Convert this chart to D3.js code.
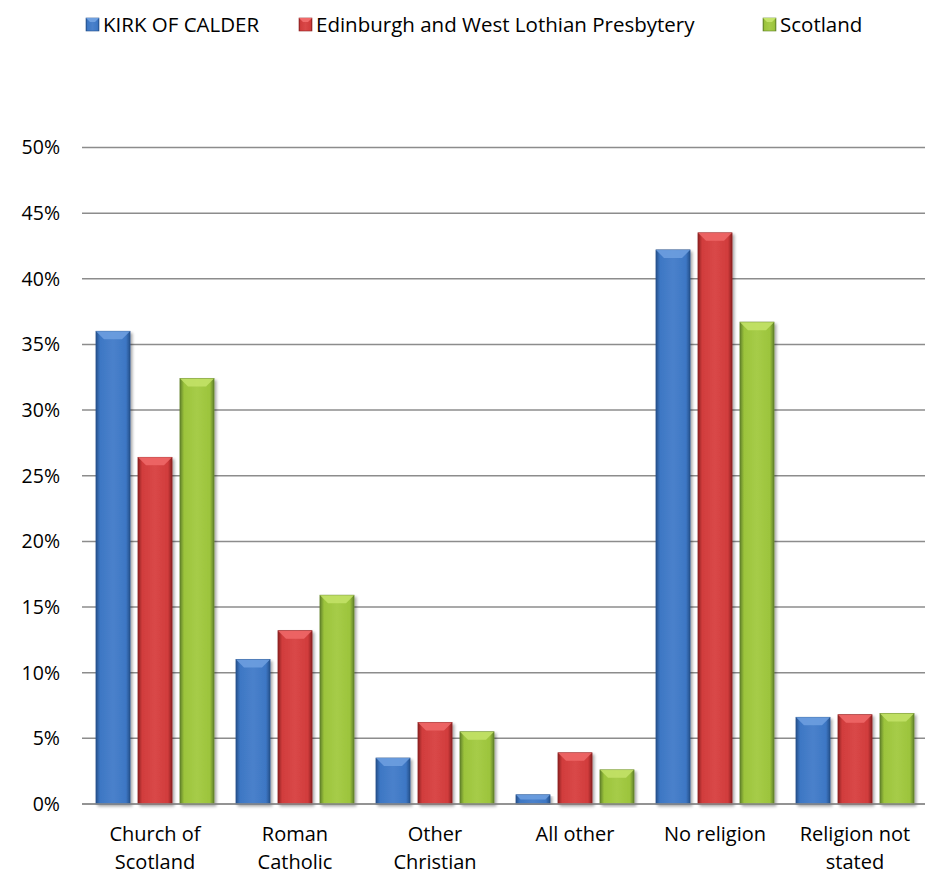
<!DOCTYPE html>
<html>
<head>
<meta charset="utf-8">
<script src="https://cdn.jsdelivr.net/npm/d3@7"></script>
<style>
  body { margin: 0; background: #fff; }
  svg text { font-family: "Open Sans", "Noto Sans", sans-serif; fill: #000; }
</style>
</head>
<body>
<svg id="chart"></svg>
<script>
// chart data
var categories = [['Church of', 'Scotland'], ['Roman', 'Catholic'], ['Other', 'Christian'], ['All other'], ['No religion'], ['Religion not', 'stated']];
var seriesNames = ['KIRK OF CALDER', 'Edinburgh and West Lothian Presbytery', 'Scotland'];
var kirkValues = [36.0, 11.0, 3.5, 0.7, 42.2, 6.6];
var presbyteryValues = [26.4, 13.2, 6.2, 3.9, 43.5, 6.8];
var scotlandValues = [32.4, 15.9, 5.5, 2.6, 36.7, 6.9];
var yTicks = [0, 5, 10, 15, 20, 25, 30, 35, 40, 45, 50];

var width = 930, height = 877;
var margin = { top: 147.5, right: 5, bottom: 73, left: 85 };
var colors = [
  { base: '#3d77c4', light: '#6fa0e0', dark: '#25518c' },
  { base: '#d13c3c', light: '#f06a6a', dark: '#8e2222' },
  { base: '#9cc43c', light: '#c4e36a', dark: '#62822a' }
];
var series = [kirkValues, presbyteryValues, scotlandValues];

var svg = d3.select('#chart').attr('width', width).attr('height', height);
var defs = svg.append('defs');

colors.forEach(function (c, i) {
  var g = defs.append('linearGradient').attr('id', 'bar' + i).attr('x1', 0).attr('x2', 1).attr('y1', 0).attr('y2', 0);
  g.append('stop').attr('offset', '0%').attr('stop-color', c.dark);
  g.append('stop').attr('offset', '12%').attr('stop-color', c.base);
  g.append('stop').attr('offset', '50%').attr('stop-color', d3.interpolateRgb(c.base, c.light)(0.25));
  g.append('stop').attr('offset', '88%').attr('stop-color', c.base);
  g.append('stop').attr('offset', '100%').attr('stop-color', c.dark);
});
var shadow = defs.append('filter').attr('id', 'shadow').attr('x', '-20%').attr('y', '-5%').attr('width', '150%').attr('height', '115%');
shadow.append('feGaussianBlur').attr('in', 'SourceAlpha').attr('stdDeviation', 1.5);
shadow.append('feOffset').attr('dx', 2).attr('dy', 2).attr('result', 'off');
shadow.append('feComponentTransfer').append('feFuncA').attr('type', 'linear').attr('slope', 0.35);
var merge = shadow.append('feMerge');
merge.append('feMergeNode');
merge.append('feMergeNode').attr('in', 'SourceGraphic');

var x0 = d3.scaleBand()
  .domain(d3.range(categories.length))
  .range([margin.left, width - margin.right]);
var x1 = d3.scaleBand()
  .domain(d3.range(series.length))
  .range([11, x0.bandwidth() - 11])
  .paddingInner(0.19);
var y = d3.scaleLinear()
  .domain([0, 50])
  .range([height - margin.bottom, margin.top]);

// gridlines + y labels
var grid = svg.append('g');
grid.selectAll('line').data(yTicks).enter().append('line')
  .attr('x1', margin.left - 3).attr('x2', width - margin.right)
  .attr('y1', function (d) { return y(d); }).attr('y2', function (d) { return y(d); })
  .attr('stroke', '#8c8c8c').attr('stroke-width', 1.5);
grid.selectAll('text').data(yTicks).enter().append('text')
  .attr('x', 60).attr('y', function (d) { return y(d); })
  .attr('dy', '0.35em').attr('text-anchor', 'end')
  .style('font-size', '19.5px')
  .text(function (d) { return d + '%'; });

// bars
var groups = svg.selectAll('.cat').data(categories).enter().append('g')
  .attr('class', 'cat')
  .attr('transform', function (d, i) { return 'translate(' + x0(i) + ',0)'; });

groups.each(function (cat, ci) {
  var g = d3.select(this);
  series.forEach(function (vals, si) {
    var bx = x1(si), bw = x1.bandwidth(), top = y(vals[ci]), bot = y(0);
    var bar = g.append('g').attr('filter', 'url(#shadow)');
    bar.append('rect')
      .attr('x', bx).attr('y', top).attr('width', bw).attr('height', bot - top)
      .attr('fill', 'url(#bar' + si + ')')
      .attr('stroke', colors[si].dark).attr('stroke-width', 0.8);
    var bev = Math.min(8, (bot - top) / 2);
    bar.append('path')
      .attr('d', 'M' + bx + ',' + top + 'L' + (bx + bw) + ',' + top + 'L' + (bx + bw - bev) + ',' + (top + bev) +
        'L' + (bx + bev) + ',' + (top + bev) + 'Z')
      .attr('fill', colors[si].light).attr('opacity', 0.85);
  });
  var lines = g.append('text')
    .attr('x', x0.bandwidth() / 2).attr('y', 841)
    .attr('text-anchor', 'middle').style('font-size', '20px');
  cat.forEach(function (t, li) {
    lines.append('tspan').attr('x', x0.bandwidth() / 2).attr('dy', li === 0 ? 0 : 28).text(t);
  });
});

// x axis line
svg.append('line')
  .attr('x1', margin.left - 3).attr('x2', width - margin.right)
  .attr('y1', y(0)).attr('y2', y(0))
  .attr('stroke', '#8c8c8c').attr('stroke-width', 1.5);

// legend
var legendX = [86, 299, 763];
var legend = svg.selectAll('.legend').data(seriesNames).enter().append('g')
  .attr('class', 'legend')
  .attr('transform', function (d, i) { return 'translate(' + legendX[i] + ',18)'; });
legend.append('rect').attr('width', 13).attr('height', 13)
  .attr('fill', function (d, i) { return 'url(#bar' + i + ')'; })
  .attr('stroke', function (d, i) { return colors[i].dark; }).attr('stroke-width', 0.6);
legend.append('path').attr('d', 'M0,0L13,0L9,4L4,4Z')
  .attr('fill', function (d, i) { return colors[i].light; });
legend.append('text').attr('x', 17).attr('y', 6.5).attr('dy', '0.35em')
  .style('font-size', '20.5px')
  .text(function (d) { return d; });
</script>
</body>
</html>
